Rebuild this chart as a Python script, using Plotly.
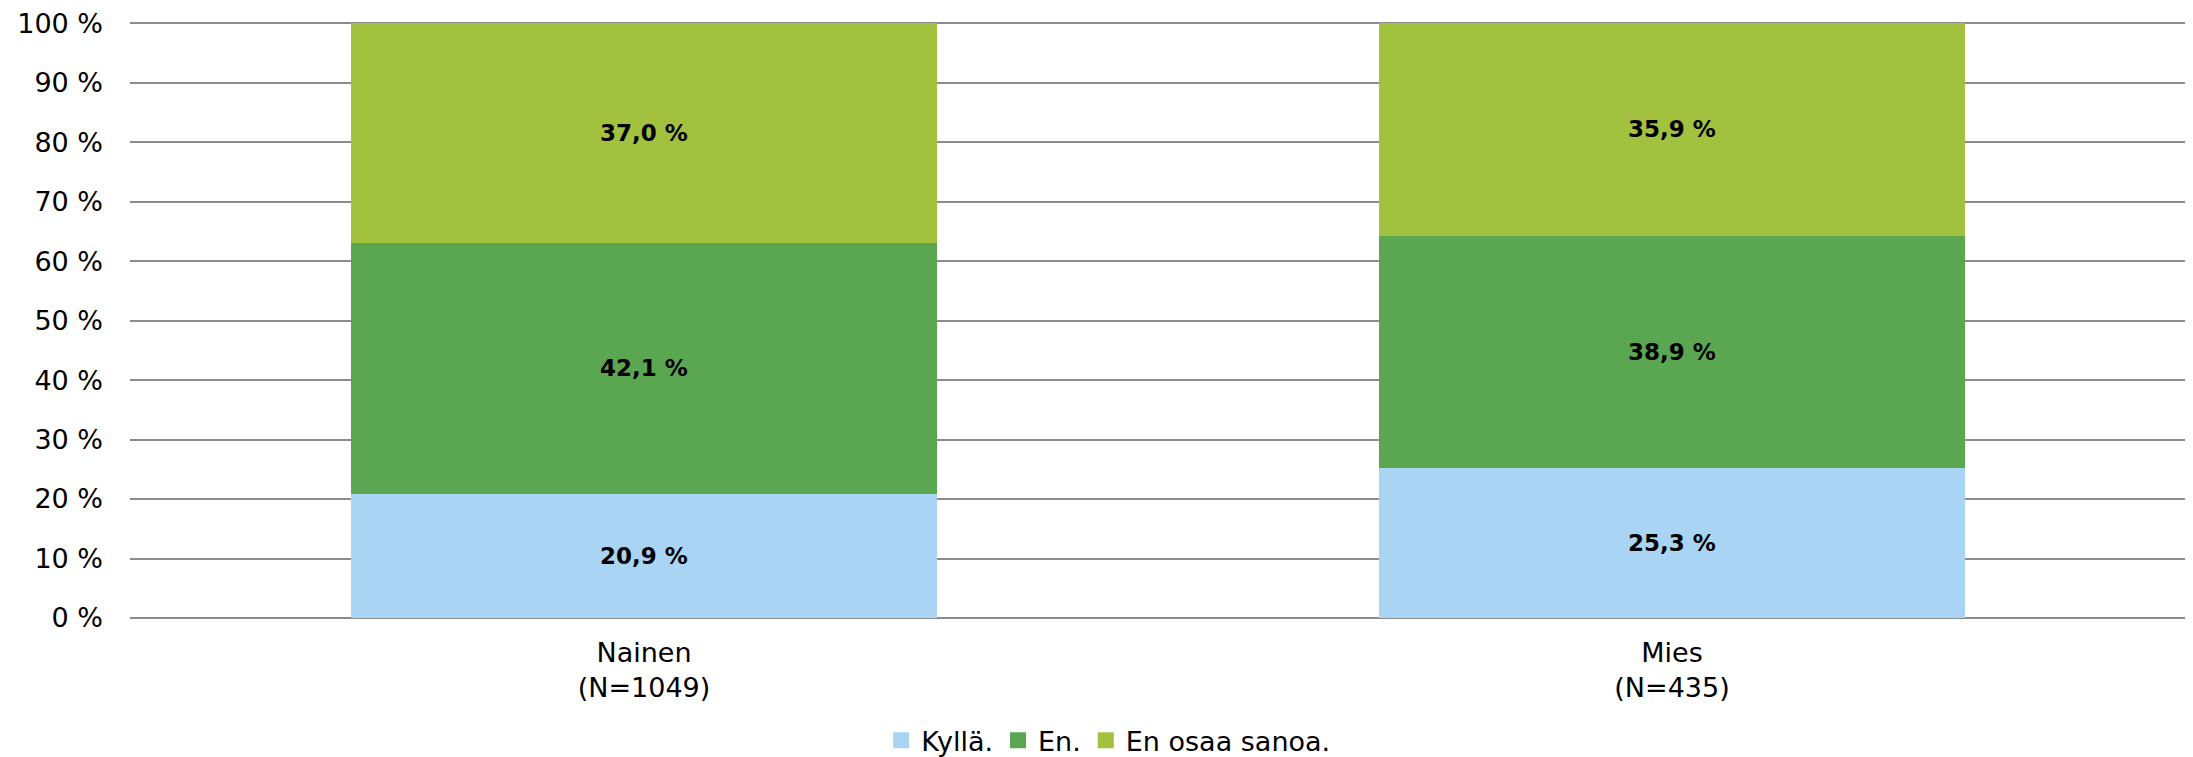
import plotly.graph_objects as go

categories = ["Nainen<br>(N=1049)", "Mies<br>(N=435)"]
series_names = ["Kyllä.", "En.", "En osaa sanoa."]
kylla = [20.9, 25.3]
en = [42.1, 38.9]
en_osaa = [37.0, 35.9]
colors = ["#A9D4F4", "#5BA651", "#A2C13E"]
tick_vals = [0, 10, 20, 30, 40, 50, 60, 70, 80, 90, 100]

fig = go.Figure()
for name, vals, col in zip(series_names, [kylla, en, en_osaa], colors):
    fig.add_trace(go.Bar(
        x=categories, y=vals, name=name, marker_color=col,
        marker_line_width=0, showlegend=False,
        text=[f"{v:.1f} %".replace(".", ",") for v in vals],
        textposition="inside", insidetextanchor="middle",
        textfont=dict(family="DejaVu Sans", size=23, color="black", weight="bold"),
        width=0.571,
    ))
# legend entries with square markers
for name, col in zip(series_names, colors):
    fig.add_trace(go.Scatter(
        x=[None], y=[None], mode="markers", name=name,
        marker=dict(symbol="square", size=16, color=col),
        showlegend=True,
    ))

fig.update_layout(
    barmode="stack",
    width=2193, height=757,
    margin=dict(l=122, r=15, t=14, b=147, autoexpand=False),
    plot_bgcolor="white", paper_bgcolor="white",
    font=dict(family="DejaVu Sans", size=27, color="black"),
    legend=dict(orientation="h", x=0.476, xanchor="center", yref="container", y=0.032,
                yanchor="middle", font=dict(size=27), itemwidth=30, traceorder="normal",
                itemsizing="trace", tracegroupgap=0),
)
fig.update_yaxes(
    range=[0, 100.2], tickvals=tick_vals, ticktext=[f"{v} %" for v in tick_vals],
    showgrid=True, gridcolor="#8C8C8C", gridwidth=2,
    zeroline=True, zerolinecolor="#8C8C8C", zerolinewidth=2,
    ticks="", ticklabelstandoff=26, tickfont=dict(size=27),
    ticklabeloverflow="allow",
)
fig.update_xaxes(showgrid=False, tickfont=dict(size=27), ticks="", showline=False,
                 ticklabelstandoff=16)
fig.write_html("out.html")
